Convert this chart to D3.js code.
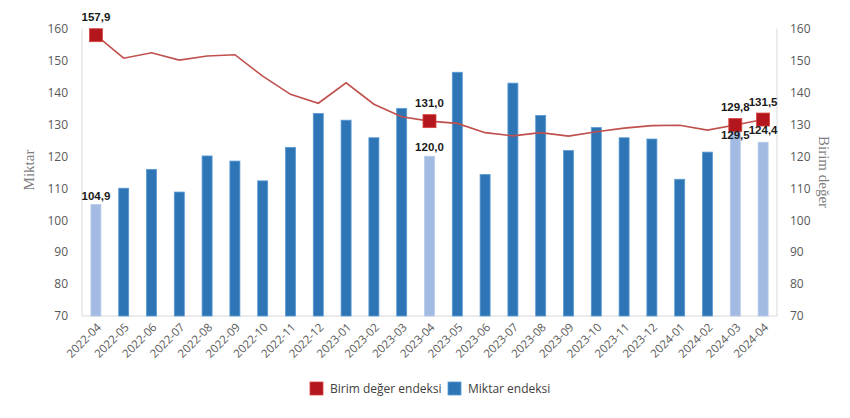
<!DOCTYPE html>
<html><head><meta charset="utf-8">
<script src="https://cdn.jsdelivr.net/npm/d3@7"></script>
<style>body{margin:0;background:#fff;} svg{display:block;}</style>
</head><body>
<svg id="c" width="850" height="418"></svg>
<script>
const months = ["2022-04","2022-05","2022-06","2022-07","2022-08","2022-09","2022-10","2022-11","2022-12","2023-01","2023-02","2023-03","2023-04","2023-05","2023-06","2023-07","2023-08","2023-09","2023-10","2023-11","2023-12","2024-01","2024-02","2024-03","2024-04"];
const miktar = [104.9,110.0,115.9,108.8,120.1,118.5,112.3,122.8,133.4,131.3,125.8,135.0,120.0,146.3,114.3,142.9,132.8,121.8,129.0,125.8,125.4,112.8,121.3,129.5,124.4];
const birim = [157.9,150.7,152.4,150.1,151.4,151.8,145.1,139.4,136.6,143.0,136.3,132.4,131.0,130.3,127.4,126.4,127.4,126.3,127.7,128.8,129.6,129.7,128.2,129.8,131.5];
const highlighted = ["2022-04","2023-04","2024-03","2024-04"];
const yTicks = [70,80,90,100,110,120,130,140,150,160];
const seriesNames = ["Birim değer endeksi","Miktar endeksi"];

const svg = d3.select("#c");
const L = 82, R = 777, T = 28.5, B = 316;
const x = d3.scaleBand().domain(months).range([L, R]).paddingInner(0.64).paddingOuter(0.32);
const yL = d3.scaleLinear().domain([70,160]).range([B, T]);
const yR = d3.scaleLinear().domain([70,160]).range([B, T]);
const fmt = v => v.toFixed(1).replace(".", ",");
const font = "'Open Sans', 'Noto Sans', sans-serif";

// axes lines
svg.append("line").attr("x1",L).attr("x2",L).attr("y1",T).attr("y2",B).attr("stroke","#d9d9d9");
svg.append("line").attr("x1",R).attr("x2",R).attr("y1",T).attr("y2",B).attr("stroke","#d9d9d9");
svg.append("line").attr("x1",L).attr("x2",R).attr("y1",B).attr("y2",B).attr("stroke","#d9d9d9");

// y ticks
const gl = svg.append("g").attr("transform",`translate(${L},0)`)
  .call(d3.axisLeft(yL).tickValues(yTicks).tickSize(0).tickPadding(14));
gl.select(".domain").remove();
gl.selectAll("text").attr("font-family",font).attr("font-size",12).attr("fill","#595959");
const gr = svg.append("g").attr("transform",`translate(${R},0)`)
  .call(d3.axisRight(yR).tickValues(yTicks).tickSize(0).tickPadding(13));
gr.select(".domain").remove();
gr.selectAll("text").attr("font-family",font).attr("font-size",12).attr("fill","#595959");

// x axis labels
const gx = svg.append("g").attr("transform",`translate(0,${B})`)
  .call(d3.axisBottom(x).tickSize(0).tickPadding(0));
gx.select(".domain").remove();
gx.selectAll("text").attr("font-family",font).attr("font-size",11.5).attr("fill","#595959")
  .attr("text-anchor","end").attr("dy",0)
  .attr("transform","translate(6,12) rotate(-45)");

// bars
const bw = x.bandwidth();
svg.append("g").selectAll("rect").data(months).join("rect")
  .attr("x", d => x(d)).attr("width", bw)
  .attr("y", (d,i) => yL(miktar[i])).attr("height", (d,i) => B - yL(miktar[i]))
  .attr("fill", d => highlighted.includes(d) ? "#a3bbe3" : "#2e75b6")
  .attr("stroke", d => highlighted.includes(d) ? "#b9cbea" : "#5b9bd5").attr("stroke-width",0.8);

// line
const line = d3.line().x((d,i) => x(months[i]) + bw/2).y(d => yR(d));
svg.append("path").datum(birim).attr("d", line).attr("fill","none")
  .attr("stroke","#c0504d").attr("stroke-width",1.6);

// markers
const ms = 13;
svg.append("g").selectAll("rect").data(highlighted).join("rect")
  .attr("x", d => x(d) + bw/2 - ms/2).attr("y", d => yR(birim[months.indexOf(d)]) - ms/2)
  .attr("width", ms).attr("height", ms).attr("fill","#b3171d").attr("stroke","#d6453f").attr("stroke-width",0.8);

// labels
const lbl = (t, cx, cy) => svg.append("text").attr("x",cx).attr("y",cy).attr("text-anchor","middle")
  .attr("font-family","'Liberation Sans', Arial, sans-serif").attr("font-weight","bold").attr("font-size",11.5).attr("fill","#1a1a1a").text(t);
highlighted.forEach((m) => {
  const i = months.indexOf(m);
  const cx = x(m) + bw/2;
  const my = yR(birim[i]);
  lbl(fmt(birim[i]), cx, my - 14);
  let by = yL(miktar[i]) - 5;
  if (by > my - ms/2 - 2 && by < my + ms/2 + 12) by = my + 14; // place below marker when colliding
  lbl(fmt(miktar[i]), cx, by);
});

// axis titles
svg.append("text").attr("transform","translate(34,170) rotate(-90)").attr("text-anchor","middle")
  .attr("font-family","'Liberation Serif', 'DejaVu Serif', serif").attr("font-size",15).attr("fill","#7f7f7f").text("Miktar");
svg.append("text").attr("transform","translate(819,172) rotate(90)").attr("text-anchor","middle")
  .attr("font-family","'Liberation Serif', 'DejaVu Serif', serif").attr("font-size",15).attr("fill","#7f7f7f").text("Birim değer");

// legend
const leg = [{n:seriesNames[0], c:"#b3171d", s:"#d6453f", x:310},{n:seriesNames[1], c:"#2e75b6", s:"#5b9bd5", x:448}];
leg.forEach(l => {
  svg.append("rect").attr("x",l.x).attr("y",382).attr("width",13).attr("height",13).attr("fill",l.c).attr("stroke",l.s).attr("stroke-width",0.8);
  svg.append("text").attr("x",l.x+20).attr("y",393).attr("font-family",font).attr("font-size",12).attr("fill","#404040").text(l.n);
});
</script>
</body></html>
